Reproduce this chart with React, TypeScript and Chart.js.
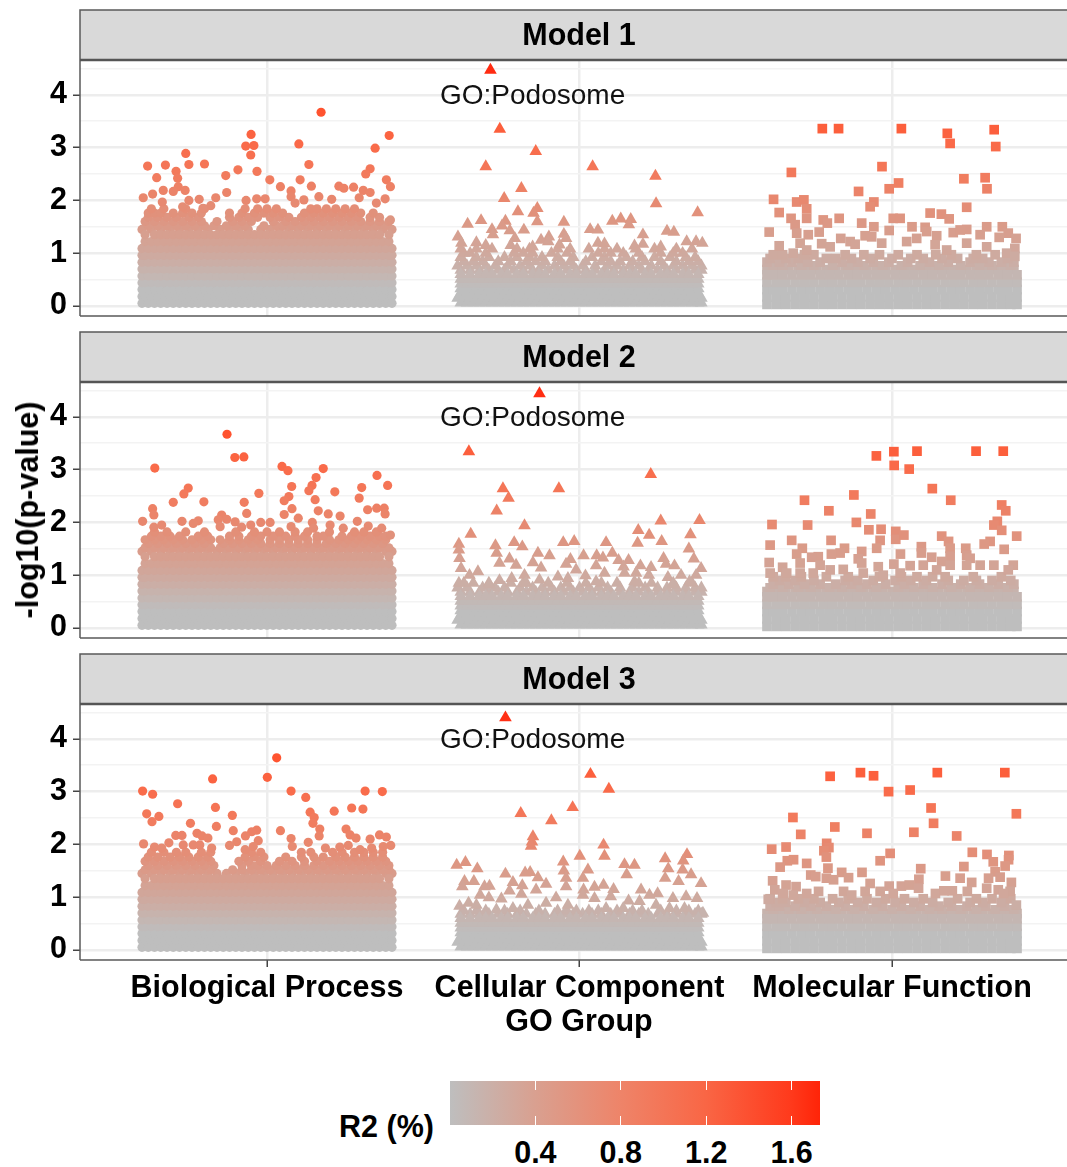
import React, { useEffect, useRef } from "react";
import { Chart, registerables } from "chart.js";

Chart.register(...registerables);

const FONT = "'Liberation Sans', Arial, sans-serif";
const groupLabels = ["Biological Process", "Cellular Component", "Molecular Function"];
const panelTitles = ["Model 1", "Model 2", "Model 3"];
const yTickValues = [0, 0.5, 1, 1.5, 2, 2.5, 3, 3.5, 4, 4.5];
const xTickValues = [1, 2, 3];
const legendTicks = [0.4, 0.8, 1.2, 1.6];
const noteText = "GO:Podosome";
const xAxisTitle = "GO Group";

// Each row is [-log10(p), offset within group (hundredths of a group step), ...].
// The solid lower mass cannot be read point by point: it is one estimated list per group, used in all panels.
const bpBase = [
  [0.05,-40,-38,-36,-34,-32,-30,-28,-26,-24,-22,-20,-18,-16,-14,-12,-10,-8,-6,-4,-2,0,2,4,6,8,10,12,14,16,18,20,22,24,26,28,30,32,34,36,38,40],
  [0.18,-40,-39,-37,-35,-33,-31,-29,-27,-25,-23,-21,-19,-17,-15,-13,-11,-9,-7,-5,-3,-1,1,3,5,7,9,11,13,15,17,19,21,23,25,27,29,31,33,35,37,39,40],
  [0.31,-40,-38,-36,-34,-32,-30,-28,-26,-24,-22,-20,-18,-16,-14,-12,-10,-8,-6,-4,-2,0,2,4,6,8,10,12,14,16,18,20,22,24,26,28,30,32,34,36,38,40],
  [0.44,-40,-39,-37,-35,-33,-31,-29,-27,-25,-23,-21,-19,-17,-15,-13,-11,-9,-7,-5,-3,-1,1,3,5,7,9,11,13,15,17,19,21,23,25,27,29,31,33,35,37,39,40],
  [0.57,-40,-38,-36,-34,-32,-30,-28,-26,-24,-22,-20,-18,-16,-14,-12,-10,-8,-6,-4,-2,0,2,4,6,8,10,12,14,16,18,20,22,24,26,28,30,32,34,36,38,40],
  [0.7,-40,-39,-37,-35,-33,-31,-29,-27,-25,-23,-21,-19,-17,-15,-13,-11,-9,-7,-5,-3,-1,1,3,5,7,9,11,13,15,17,19,21,23,25,27,29,31,33,35,37,39,40],
  [0.83,-40,-38,-36,-34,-32,-30,-28,-26,-24,-22,-20,-18,-16,-14,-12,-10,-8,-6,-4,-2,0,2,4,6,8,10,12,14,16,18,20,22,24,26,28,30,32,34,36,38,40],
  [0.96,-40,-39,-37,-35,-33,-31,-29,-27,-25,-23,-21,-19,-17,-15,-13,-11,-9,-7,-5,-3,-1,1,3,5,7,9,11,13,15,17,19,21,23,25,27,29,31,33,35,37,39,40],
  [1.09,-40,-38,-36,-34,-32,-30,-28,-26,-24,-22,-20,-18,-16,-14,-12,-10,-8,-6,-4,-2,0,2,4,6,8,10,12,14,16,18,20,22,24,26,28,30,32,34,36,38,40],
  [1.22,-39,-37,-35,-33,-31,-29,-27,-25,-23,-21,-19,-17,-15,-13,-11,-9,-7,-5,-3,-1,1,3,5,7,9,11,13,15,17,19,21,23,25,27,29,31,33,35,37,39],
  [1.35,-39,-36,-34,-32,-30,-28,-26,-24,-22,-20,-18,-16,-14,-12,-10,-8,-6,-4,-2,0,2,4,6,8,10,12,14,16,18,20,22,24,26,28,30,32,34,36,39],
];
const ccBase = [
  [0.06,-38,-36,-34,-32,-30,-28,-26,-24,-22,-20,-18,-16,-14,-12,-10,-8,-6,-4,-2,0,2,4,6,8,10,12,14,16,18,20,22,24,26,28,30,32,34,36,38,39],
  [0.15,-39,-37,-35,-33,-31,-29,-27,-25,-23,-21,-19,-17,-15,-13,-11,-9,-7,-5,-3,-1,1,3,5,7,9,11,13,15,17,19,21,23,25,27,29,31,33,35,37,39],
  [0.24,-38,-36,-34,-32,-30,-28,-26,-24,-22,-20,-18,-16,-14,-12,-10,-8,-6,-4,-2,0,2,4,6,8,10,12,14,16,18,20,22,24,26,28,30,32,34,36,38],
  [0.33,-38,-37,-35,-33,-31,-29,-27,-25,-23,-21,-19,-17,-15,-13,-11,-9,-7,-5,-3,-1,1,3,5,7,9,11,13,15,17,19,21,23,25,27,29,31,33,35,37,38],
  [0.42,-38,-36,-34,-32,-30,-28,-26,-24,-22,-20,-18,-16,-14,-12,-10,-8,-6,-4,-2,0,2,4,6,8,10,12,14,16,18,20,22,24,26,28,30,32,34,36,38],
  [0.51,-38,-37,-35,-33,-31,-29,-27,-25,-23,-21,-19,-17,-15,-13,-11,-9,-7,-5,-3,-1,1,3,5,7,9,11,13,15,17,19,21,23,25,27,29,31,33,35,37,38],
  [0.6,-38,-35,-32,-30,-28,-25,-23,-20,-18,-15,-13,-11,-8,-6,-3,-1,2,4,7,9,11,14,16,18,21,23,26,28,30,33,35,38],
];
const mfBase = [
  [0.03,-40,-37,-34,-31,-28,-25,-22,-19,-16,-13,-10,-7,-4,-1,2,5,8,11,14,17,20,23,26,29,32,35,38,40],
  [0.17,-40,-37,-34,-31,-28,-25,-22,-19,-16,-13,-10,-7,-4,-1,2,5,8,11,14,17,20,23,26,29,32,35,38,40],
  [0.31,-40,-38,-35,-32,-29,-26,-23,-20,-17,-14,-11,-8,-5,-2,1,4,7,10,13,16,19,22,25,28,31,34,37,40],
  [0.45,-40,-37,-34,-31,-28,-25,-22,-19,-16,-13,-10,-7,-4,-1,2,5,8,11,14,17,20,23,26,29,32,35,38,40],
  [0.59,-40,-38,-35,-32,-29,-26,-23,-20,-17,-14,-11,-8,-5,-2,1,4,7,10,13,16,19,22,25,28,31,34,37,40],
];

const m1Bp = [
  [1.45,-40,-37,-34,-31,-28,-25,-22,-19,-15,-12,-9,-6,-2,1,4,7,10,13,16,19,22,25,28,31,34,37,40],
  [1.52,-38,-35,-32,-29,-26,-23,-20,-17,-13,-10,-7,-1,3,5,8,11,14,17,20,23,26,29,32,35,38],
  [1.6,-39,-36,-33,-30,-27,-24,-21,-16,-11,-8,-5,2,6,9,12,15,18,21,24,27,30,33,36,39],
  [1.68,-38,-35,-32,-29,-25,-22,-12,-9,-6,-3,1,4,7,11,14,17,20,23,26,29,33,36],
  [1.76,-38,-36,-34,-30,-27,-24,-21,-12,-8,-4,-1,2,5,12,15,18,21,24,27,30,34],
  [1.84,-37,-33,-26,-20,-7,-3,0,3,14,16,19,22,25,28],
  [3.67,17.3],[3.23,39.1],[2.99,34.6],[3.25,-5.1],[3.03,-6.8],[3.04,-4.2],[2.86,-5.2],[3.07,10.2],[2.68,13.4],
  [2.89,-26],[2.68,-25],[2.69,-20],[2.65,-38.2],[2.67,-32.5],[2.55,-29.1],[2.43,-35.3],[2.42,-28.6],[2.47,-13.2],
  [2.58,-9.3],[2.55,-3.2],[2.39,0.9],[2.26,4.3],[2.39,10.6],[2.27,14.2],[2.6,33],[2.5,31.6],[2.39,38.2],[2.26,39.5],
  [2.27,23],[2.23,24.6],[2.25,27.7],[2.19,30.8],[2.15,33],[2.18,7.7],[2.07,7.7],[2.15,-12.9],[2.26,-28.4],[2.19,-33.2],
  [2.12,-36.6],[2.05,-39.6],[2.19,-26.2],[2.17,-30],[1.97,-33.5],[2,-25],[2.02,-21.7],[2.05,-16.4],[2,-6.7],[2.03,-3.3],
  [2.03,-0.6],[2.01,11.8],[2.07,16.6],[2.02,20.7],[2.05,29.5],[2.03,37.8],[1.95,35],[1.9,-18],[1.85,-20.5],[1.88,-27],
  [1.63,39.5],[1.95,9],
];
const m2Bp = [
  [1.45,-40,-37,-34,-31,-28,-25,-22,-19,-16,-13,-10,-7,-4,-1,2,5,8,11,14,17,20,23,26,29,32,35,38,40],
  [1.52,-39,-36,-33,-30,-27,-24,-21,-18,-15,-12,-9,-6,-3,0,3,6,9,12,15,18,21,24,27,30,33,36,39],
  [1.6,-38,-35,-32,-29,-26,-23,-20,-14,-11,-8,-5,-2,1,4,7,10,13,16,19,22,25,28,31,34,37],
  [1.67,-39,-36,-33,-30,-27,-24,-21,-18,-15,-12,-9,-6,-3,1,4,7,10,13,16,20,23,26,29,32,35,38],
  [1.74,-37,-34,-31,-28,-22,-19,-12,-9,-5,-2,2,6,9,12,16,18,24,27,30,33,36,38],
  [1.82,-36,-32,-26,-20,-10,-4,0,4,9,13,20,28,31,35],
  [3.67,-12.8],[3.23,-10.3],[3.24,-7.4],[3.03,-35.9],[3.06,4.8],[2.98,6.7],[3.02,18],[2.85,15.7],[2.89,35.2],[2.7,38.6],
  [2.7,14.4],[2.6,13.4],[2.68,7.9],[2.58,21.7],[2.66,30.3],[2.46,29.5],[2.65,-25.2],[2.54,-26.6],[2.38,-30],[2.39,-20.2],
  [2.55,-2.6],[2.38,-7.3],[2.17,-6.5],[2.49,7],[2.41,5.5],[2.43,15.4],[2.26,8],[2.15,5.5],[2.22,16.4],[2.16,19.6],
  [2.12,23.4],[2.26,-36.6],[2.14,-36.2],[2.02,-39.8],[2.24,32.2],[2.27,35.1],[2.27,37.5],[2.16,37.8],[2.08,10],[2.14,-14.5],
  [2.05,-15.6],[2.06,-12.9],[2.03,-22],[1.98,-23.6],[2.02,-27.2],[1.95,-33.7],[1.91,-36.2],[1.92,-15],[2.01,-10.2],[1.91,-8.1],
  [1.95,-5.2],[2,-2],[2,1],[1.92,7.7],[2,14.5],[1.89,14.9],[1.95,20.2],[1.89,24.4],[2.02,28.9],[1.93,32.4],[1.89,36.7],[1.76,39.5],
];
const m3Bp = [
  [1.45,-40,-37,-34,-31,-28,-25,-22,-19,-16,-13,-10,-7,-4,-1,2,5,8,11,14,17,20,23,26,29,32,35,38,40],
  [1.52,-39,-36,-33,-30,-27,-24,-21,-18,-11,-8,-5,-2,1,4,7,10,13,16,19,22,25,28,31,34,37,39],
  [1.6,-38,-35,-32,-29,-26,-23,-20,-17,-8,-5,-3,0,3,6,9,12,15,18,21,24,27,30,33,36,39],
  [1.68,-39,-36,-33,-30,-27,-24,-21,-18,-9,-6,-2,4,8,12,16,20,23,26,29,32,35,38],
  [1.76,-38,-35,-31,-28,-25,-22,-19,-7,-4,-1,6,11,15,18,22,25,28,31,34,37],
  [1.85,-37,-33,-29,-26,-21,-18,-5,-2,11,14,21,24,28,31,34,37],
  [3.64,3.1],[3.27,0.1],[3.24,-17.4],[3.01,-39.8],[2.95,-36.6],[3.01,7.7],[2.89,12.4],[3.01,31.4],[3,36.9],[2.77,-28.6],
  [2.7,-16.5],[2.58,-38.5],[2.53,-34.6],[2.43,-36.8],[2.55,-11.1],[2.63,21.5],[2.69,27.1],[2.67,30.7],[2.61,13.8],[2.51,15.1],
  [2.4,14.7],[2.29,16.9],[2.16,16.7],[2.4,-24.5],[2.34,-16.2],[2.26,-10.8],[2.26,4.3],[2.29,25.3],[2.18,26.6],[2.12,28.5],
  [2.27,-3.3],[2.24,-4.9],[2.16,-6.9],[2.17,-29.2],[2.17,-27.2],[2.21,-22.4],[2.16,-20.8],[2.12,-18.9],[2.11,7.7],[2.05,-9.7],
  [1.98,-12],[2.07,-2.8],[2.04,13.2],[2.1,33],[2.18,36],[2.14,38.2],[1.98,39.6],[2.01,-39.5],[2.03,-31.4],[1.95,-36],[1.93,-33.7],
  [1.99,-26.8],[1.99,-23.6],[1.99,-21.5],[1.93,-17.7],[1.9,-7],[1.96,-4.4],[1.96,8.1],[1.93,18.7],[1.95,23.3],[1.98,26],[1.9,29.8],
  [1.93,33.5],[1.96,37.2],
];

const m1Cc = [
  [0.68,-38,-35,-32,-29,-26,-24,-21,-18,-15,-13,-10,-7,-4,-1,2,5,8,11,14,17,20,22,25,28,31,34,37,39],
  [0.76,-39,-36,-33,-30,-27,-23,-19,-16,-12,-8,-5,-2,1,5,9,12,16,19,23,27,30,33,36,39],
  [0.84,-37,-34,-31,-26,-22,-17,-14,-11,-6,-3,2,7,10,13,17,21,26,31,35,38],
  [0.92,-38,-33,-29,-24,-20,-16,-12,-7,-2,4,8,15,20,24,29,34,37],
  [1.0,-37,-35,-30,-21,-18,-15,-9,-4,6,10,14,19,26,30,33],
  [1.08,-38,-33,-28,-20,-16,-7,-3,3,8,12,18,24,31,36],
  [4.47,-28.5],[3.35,-25.5],[2.93,-14],[2.64,-30],[2.64,4.2],[2.46,24.3],[2.23,-18.6],[1.94,24.5],[2.04,-24.1],[1.79,-19.7],
  [1.85,-13.5],[1.76,-14.7],[1.6,-13.5],[1.77,37.8],[1.59,-5],[1.61,10.5],[1.65,13.2],[1.64,16.4],[1.54,15.8],[1.62,-31.5],
  [1.55,-35.8],[1.61,-23.7],[1.52,-24.8],[1.45,-28],[1.35,-27.7],[1.44,-17.8],[1.43,-22.3],[1.28,-20.7],[1.31,-38.9],[1.19,-37.8],
  [1.45,3.4],[1.44,5.9],[1.42,28],[1.4,30.2],[1.35,20.3],[1.22,34.3],[1.22,37.3],[1.19,39.3],[1.36,-5],[1.28,-4.3],[1.31,-9.8],
  [1.25,-12.3],[1.22,-10],[1.16,-6.4],[1.19,5.9],[1.14,17.6],[1.17,20.3],[1.2,-33],[1.15,-30],[1.15,-22],[1.12,-15],[1.18,8],[1.12,26],
];
const m2Cc = [
  [0.68,-38,-35,-32,-29,-26,-23,-20,-17,-14,-11,-8,-5,-2,1,4,7,10,13,16,19,22,25,28,31,34,37,39],
  [0.76,-39,-36,-31,-27,-24,-19,-15,-12,-9,-6,-3,0,3,6,9,13,17,21,25,28,31,34,37,39],
  [0.85,-37,-34,-29,-22,-18,-10,-4,2,7,12,19,23,30,36],
  [4.44,-12.8],[3.34,-35.4],[2.91,22.8],[2.64,-24.5],[2.64,-6.6],[2.46,-22.7],[2.22,-26.5],[1.94,-17.6],[2.03,26],[2.04,38.4],
  [1.85,18.8],[1.76,22.3],[1.78,-34.8],[1.77,35.5],[1.64,26.3],[1.61,18.6],[1.62,-20.9],[1.54,-18.3],[1.62,-5.2],[1.64,-1.7],
  [1.62,8.5],[1.59,-38.6],[1.56,-26.9],[1.48,-38.6],[1.5,35],[1.42,10.5],[1.37,1.3],[1.37,-9.6],[1.42,-13.3],[1.42,-26.5],
  [1.37,5.5],[1.33,7.5],[1.32,-38.4],[1.32,26.9],[1.31,36.6],[1.31,-22.4],[1.3,-2.9],[1.28,15.7],[1.28,12.5],[1.23,-25.6],
  [1.19,-20.3],[1.24,-14.9],[1.21,-4.3],[1.18,5.3],[1.21,27.7],[1.18,30.4],[1.18,19.5],[1.15,22.9],[1.16,14.1],[1.13,-37.9],
  [1.13,38.9],[1.14,-12.3],[1.1,-1.1],[1.07,-32.5],[1,-35.2],[1,-17.6],[0.94,-21.7],[0.9,-25.6],[0.97,-6.9],[0.99,1.9],
  [1.04,8],[1.04,14.4],[1.04,18.1],[1,22.2],[0.96,28.3],[1,32.5],[1,37.3],[0.85,-38.6],[0.82,-28.8],[0.91,-12.8],[0.85,-17],
  [0.94,-3.7],[0.88,5.3],[0.88,17.6],[0.82,29.9],[0.88,35.2],
];
const m3Cc = [
  [0.68,-38,-35,-32,-29,-26,-23,-20,-17,-14,-11,-8,-5,-2,1,4,7,10,13,16,19,22,25,28,31,34,37,39],
  [0.74,-37,-33,-30,-24,-19,-13,-7,-4,-1,3,6,12,17,20,26,31,35,38],
  [4.4,-23.7],[3.33,3.5],[3.05,9.4],[2.7,-2.2],[2.59,-18.8],[2.45,-9],[2.15,-14.9],[2.05,-15.2],[1.97,-15.5],[1.99,7.7],
  [1.78,8],[1.78,0.1],[1.67,-5.2],[1.61,-39.3],[1.66,-36.5],[1.54,-32.7],[1.5,-5],[1.44,-23.7],[1.46,-17.4],[1.47,-15.8],
  [1.52,2.7],[1.62,14.4],[1.61,17.6],[1.43,15.1],[1.73,27.4],[1.81,34.4],[1.69,33.2],[1.54,28.4],[1.52,33],[1.43,35.7],
  [1.36,27.4],[1.3,31.7],[1.26,38.9],[1.36,1.1],[1.36,-4.3],[1.2,-4.3],[1.37,-13.3],[1.3,-36.8],[1.2,-37.5],[1.3,-33.8],
  [1.21,-28.8],[1.2,-30.4],[1.28,-21.3],[1.22,-18.3],[1.25,-10.7],[1.12,-22.4],[1.04,-31.8],[0.99,-29],[0.97,-25],[1.06,-18.6],
  [1.14,-13.9],[0.99,-7.5],[1.14,1.3],[1.19,4.8],[1.23,7.7],[1.15,10.9],[1.14,19.7],[1.07,25],[1.04,22.4],[1.01,10],[0.93,15.7],
  [0.98,29.9],[1.01,34.1],[0.98,37.6],[0.83,-38.4],[0.89,-35.5],[0.85,-33],[0.76,-26.6],[0.79,-21.3],[0.85,-16.5],[0.89,-10.7],
  [0.85,-3.7],[1.04,1.1],[0.98,4.8],[0.79,8.5],[0.79,14],[0.92,19.2],[0.85,24.5],[0.79,28.8],[0.79,33.6],[0.7,39.5],
];

const m1Mf = [
  [0.69,-40,-37,-33,-30,-27,-24,-21,-18,-15,-12,-8,-5,-2,1,4,7,11,14,17,20,24,27,30,33,36,39],
  [0.76,-38,-35,-29,-25,-19,-14,-9,-3,3,9,15,22,28,32,38],
  [0.83,-40,-36,-32,-27,-23,-16,-11,-6,-1,5,12,18,25,31,35,39],
  [0.9,-39,-34,-30,-21,-18,-13,-7,0,6,10,16,21,26,29,37],
  [0.97,-38,-35,-28,-25,-15,-9,-4,2,8,14,19,27,33],
  [3.36,-22.3],[3.36,-17.1],[3.36,3],[3.27,17.7],[3.08,18.6],[3.34,32.7],[3.02,33.2],[2.64,-3.2],[2.53,-32.2],[2.41,23],
  [2.43,29.8],[2.22,30.4],[2.33,2.1],[2.22,-0.9],[2.17,-10.7],[2.02,-37.9],[1.77,-36.1],[1.97,-30.5],[2.01,-28.2],[1.84,-27.3],
  [1.97,-5.8],[1.88,-7],[1.87,23.9],[1.66,-27.3],[1.66,-32.3],[1.63,-22],[1.57,-20.7],[1.66,-16.9],[1.57,-9.7],[1.5,-5.8],
  [1.66,0.4],[1.66,2.6],[1.76,12.2],[1.74,15.8],[1.65,18.3],[1.5,6.4],[1.49,10.6],[1.43,-0.9],[1.4,-39.3],[1.54,-31],[1.38,-30.5],
  [1.35,-26.8],[1.4,-23.3],[1.28,-16.4],[1.22,-13.4],[1.17,-11.8],[1.18,-22.5],[1.12,-19.8],[1.33,-8.6],[1.31,-6.5],[1.19,-3.3],
  [1.33,14.3],[1.41,11.1],[1.39,19.6],[1.45,23.9],[1.44,21.8],[1.5,30.3],[1.5,35.3],[1.38,37.2],[1.3,34.3],[1.28,39.7],[1.35,28.2],
  [1.19,-29.4],[1.14,-36.1],[1,-31.6],[1.06,-27.3],[1.22,4.7],[1.28,7.9],[1.16,13.8],[1.06,17.5],[1.19,23.9],[1.12,30.3],[1.09,39.3],
  [1,36.7],[0.94,39.3],
];
const m2Mf = [
  [0.69,-40,-37,-34,-31,-27,-24,-21,-18,-15,-12,-9,-6,-3,0,3,6,9,12,15,18,21,24,27,30,33,36,39],
  [0.76,-39,-35,-30,-26,-20,-16,-10,-5,2,7,13,19,25,31,37],
  [0.83,-38,-33,-28,-23,-18,-13,-8,-2,4,10,16,22,28,34,39],
  [0.9,-36,-31,-25,-15,-11,-6,1,6,11,18,23,27,32,38],
  [0.97,-38,-34,-29,-21,-14,-4,3,8,13,17,26,35],
  [3.26,-5],[3.34,0.6],[3.35,8],[3.35,26.9],[3.35,35.6],[3.08,0.7],[3.01,5.5],[2.64,12.9],[2.42,18.8],[2.52,-12.2],[2.42,-28],
  [2.22,-20.2],[2.33,35.1],[2.22,36.4],[2.16,-6.8],[1.96,-38.4],[1.95,-27],[2,-11.4],[2.02,33.7],[1.95,32.6],[1.85,35.1],
  [1.86,-7.4],[1.87,-3.5],[1.83,1.2],[1.68,1.2],[1.76,3.8],[1.74,39.9],[1.66,-32.1],[1.66,-19.5],[1.66,-3.8],[1.51,-4.9],
  [1.74,15.9],[1.64,18.1],[1.57,-39],[1.51,-28.7],[1.64,31.4],[1.59,29.5],[1.54,9.4],[1.51,-15.2],[1.45,-9.7],[1.51,18.6],
  [1.51,23.6],[1.49,35.9],[1.42,9.4],[1.4,-30.5],[1.38,23.9],[1.36,18.6],[1.4,2.7],[1.42,-16.6],[1.4,-19.4],[1.35,-23.6],
  [1.34,-25.7],[1.31,-10.8],[1.34,12.7],[1.26,15.9],[1.32,25],[1.24,-39.3],[1.15,-35],[1.23,-29.4],[1.19,-23],[1.23,-9.7],
  [1.16,-4.4],[1.21,0.6],[1.18,5.8],[1.19,10],[1.1,14.3],[1.19,18.6],[1.19,28.2],[1.19,32.6],[1.19,38.8],[1.1,37.2],[1.19,23.9],
  [1.11,-15.6],[1.1,-19.8],[1.04,-39],[1.04,-33.7],[1.04,-29.4],[1.04,-25.2],[1.04,-9.2],[1,-2.8],[1.04,2.6],
];
const m3Mf = [
  [0.69,-40,-37,-34,-31,-28,-25,-22,-19,-16,-13,-10,-7,-4,-1,2,5,8,11,14,17,20,23,26,29,32,35,38,40],
  [0.76,-38,-33,-29,-24,-18,-12,-6,0,6,12,16,22,27,33,39],
  [0.83,-39,-36,-31,-26,-21,-15,-9,-3,3,9,15,19,24,30,36],
  [0.9,-37,-34,-28,-23,-17,-11,-5,1,7,13,18,25,29,35],
  [0.97,-39,-35,-30,-25,-19,-14,-8,-2,4,10,21,27,32,38],
  [3.29,-19.8],[3.36,-10.1],[3.3,-5.9],[3.36,14.5],[3.36,36.1],[3,-1.1],[3.03,5.8],[2.69,12.5],[2.58,39.8],[2.51,-31.7],
  [2.4,13.3],[2.33,-18.3],[2.19,-29.2],[2.21,-8],[2.23,7],[2.16,20.7],[2.02,-20.9],[1.94,-20.2],[1.88,-21.8],[1.76,-21],
  [1.91,-38.5],[1.95,-33.9],[1.83,-0.6],[1.69,-3.8],[1.85,25.7],[1.81,30.4],[1.79,37.4],[1.71,37.3],[1.67,32.4],[1.71,-31.5],
  [1.69,-33.5],[1.57,-35.8],[1.64,-27.3],[1.55,-20.5],[1.54,9.2],[1.58,23],[1.59,36.2],[1.48,33],[1.47,-9.6],[1.47,-16.1],
  [1.4,17.1],[1.36,21.8],[1.34,8.6],[1.42,-26],[1.31,-38.2],[1.39,-24.4],[1.36,-21],[1.33,-18.7],[1.37,-13.9],[1.28,25.5],
  [1.36,30.9],[1.38,34.6],[1.28,38.2],[1.26,-7],[1.21,-0.9],[1.21,3],[1.23,5.5],[1.23,-33.9],[1.2,-30.7],[1.14,-37.5],[0.96,-39.6],
  [1.07,-34.8],[1.04,-31.6],[1.07,-27.3],[1.11,-23.5],[1.11,-15.5],[1.04,-12.9],[1.11,-8.6],[1.11,-3.8],[1.07,0.4],[1.17,8.5],
  [1.07,13.9],[1.12,16.6],[1.12,19.3],[1.11,24.1],[1.17,30.3],[1.11,37.8],[1.14,34],[0.85,39.8],[1.07,35.7],
];

const panelBp = [m1Bp, m2Bp, m3Bp];
const panelCc = [m1Cc, m2Cc, m3Cc];
const panelMf = [m1Mf, m2Mf, m3Mf];
const noteAnchor = { x: 1.85, y: 3.98 };

const colorStopY = [0.35, 1, 1.5, 2, 2.5, 3, 3.65, 4.5];
const colorStopRgb = [
  [190, 190, 190], [207, 169, 158], [218, 155, 137], [232, 136, 111],
  [242, 122, 92], [249, 108, 75], [255, 84, 48], [255, 42, 16],
];
function colorFor(y: number) {
  if (y <= colorStopY[0]) return "rgb(190,190,190)";
  for (let i = 1; i < colorStopY.length; i++) {
    if (y <= colorStopY[i]) {
      const t = (y - colorStopY[i - 1]) / (colorStopY[i] - colorStopY[i - 1]);
      const c = colorStopRgb[i].map((v, k) => Math.round(colorStopRgb[i - 1][k] + (v - colorStopRgb[i - 1][k]) * t));
      return `rgb(${c[0]},${c[1]},${c[2]})`;
    }
  }
  return "rgb(255,42,16)";
}

const toPoints = (group: number, rows: number[][]) =>
  rows.flatMap(([y, ...offs]) => offs.map((o) => ({ x: group + o / 100, y })));

const zeroPadding = (s: any) => {
  s.paddingLeft = 0;
  s.paddingRight = 0;
  s.paddingTop = 0;
  s.paddingBottom = 0;
};

function Panel({ index }: { index: number }) {
  const ref = useRef<HTMLCanvasElement>(null);
  const isLast = index === 2;
  useEffect(() => {
    const dot = (group: number, rows: number[][], pointStyle: string, radius: number) => ({
      data: toPoints(group, rows),
      pointStyle,
      pointRadius: radius,
      pointHoverRadius: radius,
      pointBorderWidth: 0,
      showLine: false,
      pointBackgroundColor: (c: any) => colorFor(c.raw ? c.raw.y : 0),
    });
    const panelPlugin = {
      id: "panelDecor",
      afterDatasetsDraw(chart: any) {
        const { ctx, scales } = chart;
        ctx.save();
        ctx.font = `28px ${FONT}`;
        ctx.fillStyle = "#111";
        ctx.textAlign = "center";
        ctx.textBaseline = "middle";
        ctx.fillText(noteText, scales.x.getPixelForValue(noteAnchor.x), scales.y.getPixelForValue(noteAnchor.y));
        ctx.restore();
      },
      afterDraw(chart: any) {
        const { ctx, chartArea: a } = chart;
        ctx.save();
        ctx.fillStyle = "#D9D9D9";
        ctx.fillRect(a.left, a.top - 50, a.right - a.left + 1, 50);
        ctx.strokeStyle = "#5a5a5a";
        ctx.lineWidth = 1.5;
        ctx.beginPath();
        ctx.moveTo(a.left, a.bottom);
        ctx.lineTo(a.left, a.top - 50);
        ctx.lineTo(a.right + 2, a.top - 50);
        ctx.moveTo(a.left, a.bottom);
        ctx.lineTo(a.right + 2, a.bottom);
        ctx.stroke();
        ctx.lineWidth = 2.5;
        ctx.strokeStyle = "#555";
        ctx.beginPath();
        ctx.moveTo(a.left, a.top);
        ctx.lineTo(a.right + 2, a.top);
        ctx.stroke();
        ctx.font = `bold 30.5px ${FONT}`;
        ctx.fillStyle = "#000";
        ctx.textAlign = "center";
        ctx.textBaseline = "middle";
        ctx.fillText(panelTitles[index], 579, a.top - 23);
        if (isLast) ctx.fillText(xAxisTitle, 579, a.bottom + 63);
        ctx.restore();
      },
    };
    const chart = new Chart(ref.current as any, {
      type: "scatter",
      data: {
        datasets: [
          dot(1, bpBase, "circle", 4.6),
          dot(1, panelBp[index], "circle", 4.6),
          dot(2, ccBase, "triangle", 7.3),
          dot(2, panelCc[index], "triangle", 7.3),
          dot(3, mfBase, "rect", 6.85),
          dot(3, panelMf[index], "rect", 6.85),
        ] as any,
      },
      options: {
        responsive: false,
        animation: false,
        events: [],
        layout: { autoPadding: false, padding: { top: 52, bottom: isLast ? 0 : 2, left: 0, right: 0 } },
        plugins: { legend: { display: false }, tooltip: { enabled: false }, title: { display: false } },
        scales: {
          x: {
            type: "linear",
            min: 0.4016,
            max: 3.56,
            afterBuildTicks: (s: any) => { s.ticks = xTickValues.map((value) => ({ value })); },
            afterFit: (s: any) => { s.height = isLast ? 100 : 0; zeroPadding(s); },
            border: { display: false },
            grid: { color: "#EDEDED", lineWidth: 2.5, drawTicks: isLast, tickLength: 7, tickColor: "#444", tickWidth: 1.5 },
            ticks: {
              display: isLast,
              autoSkip: false,
              maxRotation: 0,
              padding: 3,
              color: "#000",
              font: { family: FONT, size: 30.5, weight: "bold" },
              callback: (v: any) => groupLabels[Number(v) - 1],
            },
          },
          y: {
            type: "linear",
            min: -0.19,
            max: 4.66,
            afterBuildTicks: (s: any) => { s.ticks = yTickValues.map((value) => ({ value })); },
            afterFit: (s: any) => { s.width = 80; zeroPadding(s); },
            border: { display: false },
            grid: {
              color: (c: any) => (Number.isInteger(c.tick?.value) ? "#EDEDED" : "#F3F3F3"),
              lineWidth: (c: any) => (Number.isInteger(c.tick?.value) ? 2.5 : 1.5),
              tickLength: 7,
              tickColor: (c: any) => (Number.isInteger(c.tick?.value) ? "#444" : "rgba(0,0,0,0)"),
              tickWidth: 1.5,
            },
            ticks: {
              autoSkip: false,
              padding: 6,
              color: "#000",
              font: { family: FONT, size: 30.5, weight: "bold" },
              callback: (v: any) => (Number.isInteger(v) ? String(v) : ""),
            },
          },
        },
      } as any,
      plugins: [panelPlugin],
    } as any);
    return () => chart.destroy();
  }, []);
  const top = [8, 330, 652][index];
  const height = isLast ? 408 : 310;
  return <canvas ref={ref} width={1067} height={height} style={{ position: "absolute", left: 0, top, display: "block" }} />;
}

const bold: React.CSSProperties = { position: "absolute", fontFamily: FONT, fontWeight: "bold", fontSize: 30.5, lineHeight: "36px", color: "#000", whiteSpace: "nowrap" };
const legendLeft = 450;
const legendWidth = 370;
const legendMax = 1.733;

export default function App() {
  return (
    <div style={{ position: "absolute", left: 0, top: 0, width: 1067, height: 1167, overflow: "hidden", background: "#fff" }}>
      {[0, 1, 2].map((i) => <Panel key={i} index={i} />)}
      <div style={{ ...bold, left: 27, top: 510, transform: "translate(-50%,-50%) rotate(-90deg)" }}>-log10(p-value)</div>
      <div style={{ position: "absolute", left: legendLeft, top: 1081, width: legendWidth, height: 44, background: "linear-gradient(to right,#BEBEBE 0%,#D9A090 23%,#EE8469 46%,#F96645 69%,#FF3A1C 92%,#FF2408 100%)" }}>
        {legendTicks.map((t) => (
          <React.Fragment key={t}>
            <div style={{ position: "absolute", left: (t / legendMax) * legendWidth - 0.5, top: 0, width: 1, height: 9, background: "#fff" }} />
            <div style={{ position: "absolute", left: (t / legendMax) * legendWidth - 0.5, top: 35, width: 1, height: 9, background: "#fff" }} />
          </React.Fragment>
        ))}
      </div>
      <div style={{ ...bold, right: 1067 - 434, top: 1108 }}>R2 (%)</div>
      {legendTicks.map((t) => (
        <div key={t} style={{ ...bold, left: legendLeft + (t / legendMax) * legendWidth, top: 1134, transform: "translateX(-50%)" }}>{t.toFixed(1)}</div>
      ))}
    </div>
  );
}
